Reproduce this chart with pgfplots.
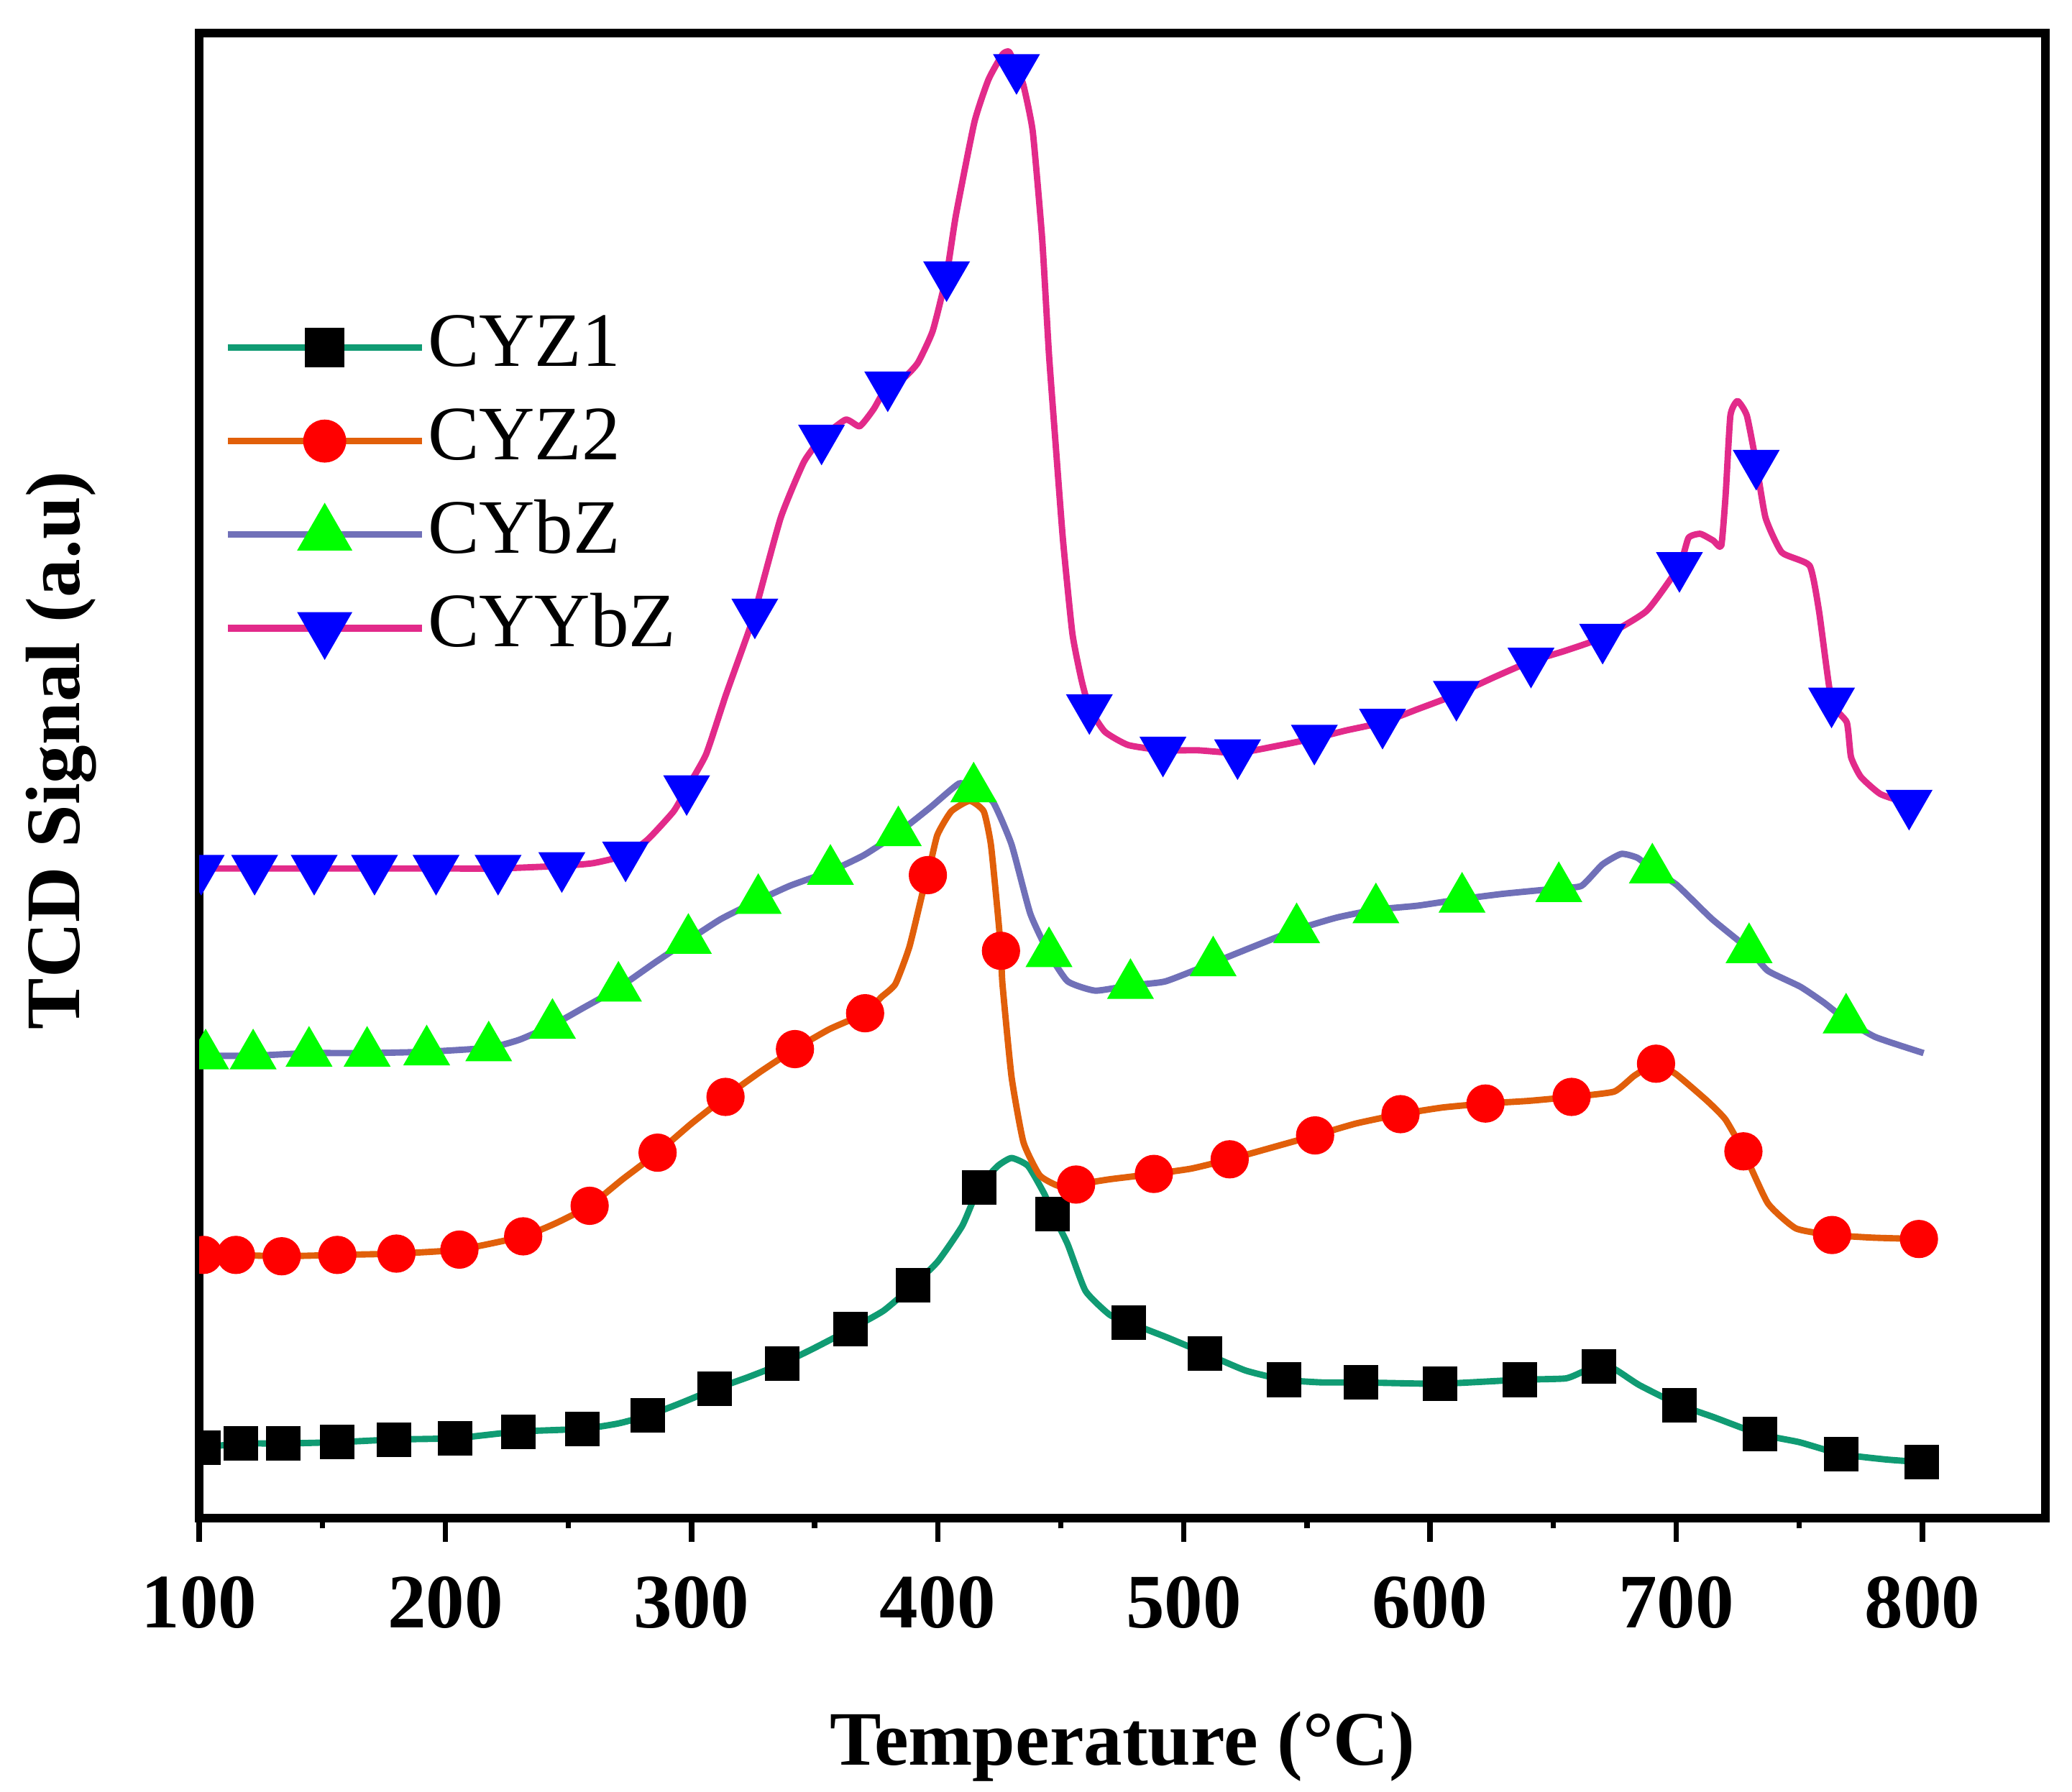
\documentclass[border=0pt]{standalone}
\usepackage{pgfplots}
\pgfplotsset{compat=1.18}
\usepackage{fontspec}
\setmainfont{Liberation Serif}
\definecolor{cyzone}{RGB}{16,155,115}
\definecolor{cyztwo}{RGB}{225,95,10}
\definecolor{cybz}{RGB}{112,112,184}
\definecolor{cyybz}{RGB}{226,42,138}
\definecolor{mgreen}{RGB}{0,255,0}
\definecolor{mblue}{RGB}{0,0,255}
\definecolor{mred}{RGB}{255,0,0}
\begin{document}
\begin{tikzpicture}
\useasboundingbox (-37.5pt,-51.6pt) rectangle (352.5pt,285.75pt);
\begin{axis}[
  scale only axis,
  width=347.5pt, height=279.5pt,
  xmin=100, xmax=850, ymin=0, ymax=1118,
  axis line style={line width=1.6pt, black},
  xtick={100,200,...,800},
  minor x tick num=1,
  xtick pos=lower,
  tick align=outside,
  ytick=\empty,
  major tick length=4.5pt,
  minor tick length=2pt,
  every tick/.style={line width=1pt, black},
  clip marker paths=true,
  /pgf/number format/assume math mode=true,
  ticklabel style={font=\fontsize{14.5}{16}\selectfont\bfseries},
  xticklabel style={yshift=-3pt},
  xlabel={Temperature (°C)},
  ylabel={TCD Signal (a.u)},
  label style={font=\fontsize{14.5}{16}\selectfont\bfseries},
  xlabel style={at={(rel axis cs:0.5,0)}, anchor=center, yshift=-43pt},
  ylabel style={at={(rel axis cs:0,0.517)}, anchor=center, yshift=26pt},
  legend image code/.code={\draw[mark repeat=2,mark phase=2,#1] plot coordinates {(0pt,0pt) (18.25pt,0pt) (36.5pt,0pt)};},
  legend cell align=left,
  legend style={draw=none, fill=none, inner sep=0pt,
    at={(rel axis cs:0.013,0.814)}, anchor=north west,
    font=\fontsize{14.5}{16}\selectfont,
    row sep=3.6pt,
    nodes={inner sep=0.5pt, text height=10pt, text depth=3pt}},
  every axis plot/.append style={smooth, tension=0.3},
]
\addlegendimage{color=cyzone, line width=1.3pt, mark=square*, mark size=3.05pt, mark options={draw=black, fill=black}}
\addlegendentry{CYZ1}
\addlegendimage{color=cyztwo, line width=1.3pt, mark=*, mark size=3.4pt, mark options={draw=mred, fill=mred}}
\addlegendentry{CYZ2}
\addlegendimage{color=cybz, line width=1.3pt, mark=triangle*, mark size=4.7pt, mark options={draw=mgreen, fill=mgreen}}
\addlegendentry{CYbZ}
\addlegendimage{color=cyybz, line width=1.3pt, mark=triangle*, mark size=4.7pt, mark options={draw=mblue, fill=mblue, rotate=180}}
\addlegendentry{CYYbZ}

% CYZ1
\addplot[color=cyzone, line width=1.2pt, line join=round, forget plot] table[x=x,y=y] {
x y
100 53
101.7 53
116.8 56
134.2 56
156.1 57
179.2 59
204 60
229.7 65
255.6 67
270 71
282.2 77
295 86
309.5 97
323 106
336.7 116
350 128
364.5 142
378 156
390 175
400 193
410 220
416.8 249
424.4 265
430 271
436.7 265
443.3 244
446.7 229
452.8 206
460 171
469.8 153
477.7 147
493 136
508.5 124
525 111
540.7 104
556 102
572 102
604 101
636.5 104
655 105
662 110
668.6 114
675 112
685 100
701.3 85
715 76
734 63
750 57
767 48
785 44
799.6 42
};
\addplot[only marks, mark=square*, mark size=3.05pt, draw=black, fill=black, forget plot] table[x=x,y=y] {
x y
101.7 53
116.8 56
134.2 56
156.1 57
179.2 59
204 60
229.7 65
255.6 67
282.2 77
309.5 97
336.7 116
364.5 142
390 175
416.8 249
446.7 229
477.7 147
508.5 124
540.7 104
572 102
604 101
636.5 104
668.6 114
701.3 85
734 63
767 48
799.6 42
};

% CYZ2
\addplot[color=cyztwo, line width=1.2pt, line join=round, forget plot] table[x=x,y=y] {
x y
100 198
101.7 198
114.9 198
133.5 197
156.1 198
180.1 199
205.7 202
231.6 212
245 222
258.6 235
272 255
286.2 275
300 297
313.8 317
328 336
342 353
356 368
370.5 380
377 392
382.8 402
388.5 430
394 472
396 484
399.8 514
405.5 532
413 540
418.7 532
421.6 507
424.4 455
425.7 427
426.3 402
430 332
434.8 283
441.4 258
449 250
456.2 251
470 255
487.8 259
503 263
518.6 270
536 279
553.3 288
570 297
588 304
605 309
622.5 312
640 314
657.5 317
674.8 321
683 333
691.8 342
700 334
712.6 314
720 300
727.3 276
737.2 237
748.6 218
763.3 213
780 211
798.6 210
};
\addplot[only marks, mark=*, mark size=3.4pt, draw=mred, fill=mred, forget plot] table[x=x,y=y] {
x y
101.7 198
114.9 198
133.5 197
156.1 198
180.1 199
205.7 202
231.6 212
258.6 235
286.2 275
313.8 317
342 353
370.5 380
396 484
425.7 427
456.2 251
487.8 259
518.6 270
553.3 288
588 304
622.5 312
657.5 317
691.8 342
727.3 276
763.3 213
798.6 210
};

% CYbZ
\addplot[color=cybz, line width=1.2pt, line join=round, forget plot] table[x=x,y=y] {
x y
100 348
102.6 348
121.9 348
144.6 350
168.2 350
192.4 351
217.6 354
230 360
243.5 371
256 384
270.3 399
285 418
298.7 435
312 451
327.1 465
340 476
356.4 487
370 499
384 516
397 535
408.7 553
414.6 549
422.5 539
430 507
437.6 455
445.2 425
452.8 404
464 397
478.3 401
492.5 404
511.9 418
528 430
545.8 443
562 452
578 458
595 461
613 466
630 470
652.3 474
661.6 476
670 492
677.7 500
684.3 497
690.3 488
700 477
714.5 451
729.6 428
737.2 412
750.4 400
760 388
769 375
781 362
800.5 350
};
\addplot[only marks, mark=triangle*, mark size=4.7pt, draw=mgreen, fill=mgreen, forget plot] table[x=x,y=y] {
x y
102.6 348
121.9 348
144.6 350
168.2 350
192.4 351
217.6 354
243.5 371
270.3 399
298.7 435
327.1 465
356.4 487
384 516
414.6 549
445.2 425
478.3 401
511.9 418
545.8 443
578 458
613 466
652.3 474
690.3 488
729.6 428
769 375
};

% CYYbZ
\addplot[color=cyybz, line width=1.2pt, line join=round, forget plot] table[x=x,y=y] {
x y
100 489
100.8 489
122.5 489
146.7 489
171.2 489
196.2 489
221.4 489
247.3 491
260 493
273.2 499
282.3 511
292.7 532
298 549
305.9 575
314 620
322.9 666
325.7 682
336.2 753
345.6 795
352.8 813
362.6 827
368.3 822
374 835
379.7 853
386.6 859
392 870
398 894
403.6 936
407.4 981
414.9 1051
420.6 1083
426.3 1102
429 1104
432 1092
434.8 1079
438.6 1044
442.4 964
445.2 876
448 806
450.9 736
454.7 666
458.4 631
461.6 610
467.9 592
477.3 582
491.5 578
505.7 578
521.8 576
537 581
553 587
566 593
580.7 599
595 609
610.7 620
626 633
641 645
655 653
670.1 663
688 683
701.3 717
705 738
709.8 741
715 736
718.3 732
720.1 771
722 830
724.9 841
728.7 830
732.5 794
736.3 753
742.9 727
754.2 717
758 683
763.1 615
769.3 599
771 573
775 558
783 545
794.6 538
798.8 538
};
\addplot[only marks, mark=triangle*, mark size=4.7pt, draw=mblue, fill=mblue, mark options={rotate=180}, forget plot] table[x=x,y=y] {
x y
100.8 489
122.5 489
146.7 489
171.2 489
196.2 489
221.4 489
247.3 491
273.2 499
298 549
325.7 682
352.8 813
379.7 853
403.6 936
432 1092
461.6 610
491.5 578
521.8 576
553 587
580.7 599
610.7 620
641 645
670.1 663
701.3 717
732.5 794
763.1 615
794.6 538
};
\end{axis}
\end{tikzpicture}
\end{document}
